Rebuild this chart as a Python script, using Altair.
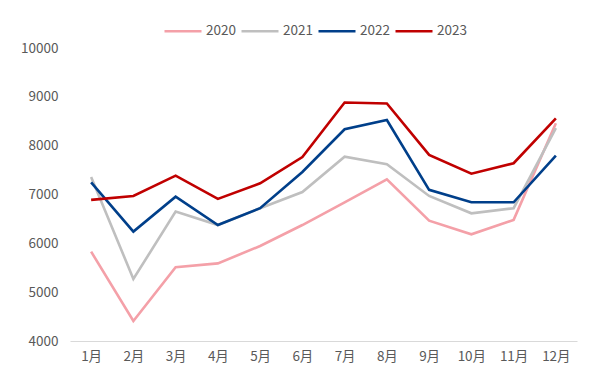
import altair as alt
import pandas as pd

months = ["1月", "2月", "3月", "4月", "5月", "6月", "7月", "8月", "9月", "10月", "11月", "12月"]
years = ["2020", "2021", "2022", "2023"]
v2020 = [5830, 4410, 5510, 5590, 5945, 6375, 6840, 7310, 6465, 6185, 6480, 8460]
v2021 = [7360, 5270, 6650, 6375, 6720, 7050, 7775, 7620, 6970, 6615, 6720, 8360]
v2022 = [7250, 6240, 6955, 6375, 6720, 7460, 8335, 8525, 7095, 6840, 6840, 7795]
v2023 = [6890, 6970, 7385, 6910, 7230, 7765, 8885, 8865, 7810, 7425, 7640, 8560]
colors = ["#F4A0A8", "#BFBFBF", "#003F8A", "#C00000"]
y_ticks = [4000, 5000, 6000, 7000, 8000, 9000, 10000]

rows = []
for yr, vals in zip(years, [v2020, v2021, v2022, v2023]):
    for m, v in zip(months, vals):
        rows.append({"month": m, "year": yr, "value": v})
df = pd.DataFrame(rows)

font = "Noto Sans CJK SC"

chart = alt.Chart(df).mark_line(strokeWidth=2.6).encode(
    x=alt.X("month:N", sort=months, title=None,
            scale=alt.Scale(type="point", padding=0.5),
            axis=alt.Axis(labelAngle=0, ticks=False, domainColor="#D9D9D9",
                          labelColor="#595959", labelFontSize=13.5, labelFont=font,
                          labelPadding=8, grid=False)),
    y=alt.Y("value:Q", title=None,
            scale=alt.Scale(domain=[4000, 10000], nice=False, zero=False),
            axis=alt.Axis(values=y_ticks, ticks=False, domain=False, grid=False,
                          format="d",
                          labelColor="#595959", labelFontSize=13.5, labelFont=font,
                          labelPadding=12)),
    color=alt.Color("year:N", sort=years,
                    scale=alt.Scale(domain=years, range=colors),
                    legend=alt.Legend(title=None, orient="none", direction="horizontal",
                                      legendX=93, legendY=-37,
                                      symbolType="stroke", symbolSize=1369,
                                      symbolStrokeWidth=2.6,
                                      labelFontSize=13.5, labelFont=font,
                                      labelColor="#595959", columnPadding=0,
                                      labelOffset=3)),
).properties(
    width=507, height=293,
    padding={"left": 62, "top": 40, "right": 12, "bottom": 36},
    autosize=alt.AutoSizeParams(type="none"),
).configure_view(stroke=None)

chart.save("out.html", embed_options={"renderer": "svg", "actions": False})
